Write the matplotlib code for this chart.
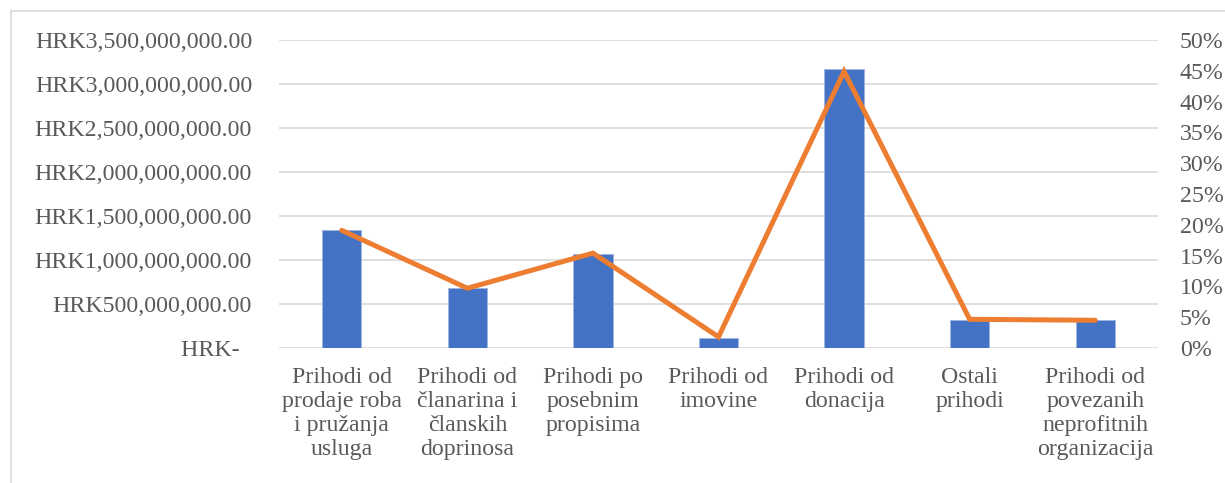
import matplotlib.pyplot as plt
import matplotlib.ticker as mticker
import numpy as np

plt.rcParams['font.family'] = ['Liberation Serif', 'DejaVu Serif']

# kategorije prihoda
kategorije = [
    'Prihodi od\nprodaje roba\ni pružanja\nusluga',
    'Prihodi od\nčlanarina i\nčlanskih\ndoprinosa',
    'Prihodi po\nposebnim\npropisima',
    'Prihodi od\nimovine',
    'Prihodi od\ndonacija',
    'Ostali\nprihodi',
    'Prihodi od\npovezanih\nneprofitnih\norganizacija',
]
# iznosi u HRK
iznosi = [1.34e9, 0.677e9, 1.068e9, 0.114e9, 3.17e9, 0.318e9, 0.318e9]
# udio u ukupnim prihodima
udjeli = [0.191, 0.097, 0.154, 0.018, 0.449, 0.0466, 0.045]

siva = '#595959'

fig = plt.figure(figsize=(12.25, 4.83), dpi=100)
ax = fig.add_axes([279/1225, 1 - 348/483, (1158 - 279)/1225, (348 - 40)/483])

x = np.arange(len(kategorije))
ax.bar(x, iznosi, width=0.313, color='#4472C4', edgecolor='#9DB5E0',
       linewidth=0.7, zorder=2)
ax.set_xlim(-0.5, len(kategorije) - 0.5)
ax.set_ylim(0, 3.5e9)
ax.yaxis.set_major_locator(mticker.MultipleLocator(0.5e9))


def hrk(v, pos):
    if v == 0:
        return 'HRK-  '
    return 'HRK{:,.2f}'.format(v)


ax.yaxis.set_major_formatter(mticker.FuncFormatter(hrk))
ax.grid(axis='y', color='#D9D9D9', linewidth=1.2, zorder=0)
ax.set_axisbelow(True)
ax.set_xticks(x)
ax.set_xticklabels(kategorije, linespacing=1.17)
ax.tick_params(axis='y', length=0, pad=19.4, labelsize=17.2, labelcolor=siva)
ax.tick_params(axis='x', length=0, pad=14, labelsize=17.2, labelcolor=siva)

ax2 = ax.twinx()
ax2.plot(x, udjeli, color='#ED7D31', linewidth=3.6, solid_capstyle='round',
         solid_joinstyle='miter', zorder=3)
ax2.set_ylim(0, 0.5)
ax2.yaxis.set_major_locator(mticker.MultipleLocator(0.05))
ax2.yaxis.set_major_formatter(mticker.FuncFormatter(lambda v, p: '{:.0f}%'.format(v * 100)))
ax2.tick_params(axis='y', length=0, pad=15.8, labelsize=17.2, labelcolor=siva)

for a in (ax, ax2):
    for s in a.spines.values():
        s.set_visible(False)

# okvir grafikona
fig.add_artist(plt.Line2D([11/1225, 1], [1 - 11/483, 1 - 11/483],
                          color='#D9D9D9', linewidth=1.2, transform=fig.transFigure))
fig.add_artist(plt.Line2D([11/1225, 11/1225], [0, 1 - 11/483],
                          color='#D9D9D9', linewidth=1.2, transform=fig.transFigure))

fig.savefig('out.png', dpi=100)
